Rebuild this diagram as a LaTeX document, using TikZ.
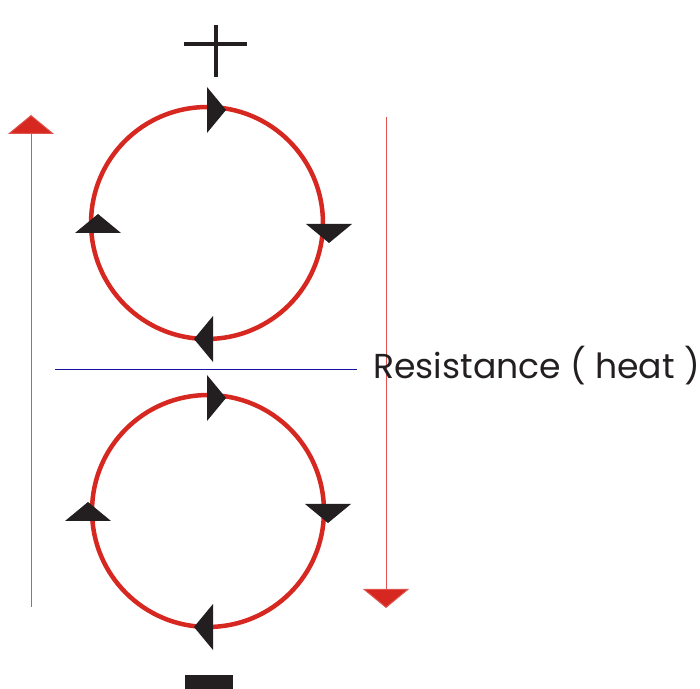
\documentclass[tikz,border=0pt]{standalone}
\usepackage{fontspec}
\setmainfont{Poppins}
\usepackage{tikz}
\usetikzlibrary{arrows.meta}
\definecolor{loopred}{RGB}{214,40,32}
\definecolor{tipblack}{RGB}{35,31,32}
\definecolor{midblue}{RGB}{20,20,160}

\begin{document}
\begin{tikzpicture}[x=0.02cm, y=0.02cm,
			ring/.style={circle, draw=loopred, line width=0.09cm, minimum size=4.64cm, inner sep=0pt},
			pointer/.style={fill=tipblack},
			flow/.style={draw=loopred!80, line width=0.02cm, -{Triangle[width=0.92cm, length=0.38cm, fill=loopred]}},
			sign/.style={draw=tipblack, line width=0.075cm}
			]
			\useasboundingbox (0,0) rectangle (700,689);
			% the two current loops
			\node[ring] (upper) at (207,466) {};
			\node[ring] (lower) at (208,178) {};
			% direction marks on the loops
			\foreach \px/\py/\ang in {207/579/0, 98/456/90, 329/465/-90, 213/350/180,
				207/291/0, 88/168/90, 328/185/-90, 213/62/180}
				\fill[pointer, shift={(\px,\py)}, rotate=\ang] (0,-23) -- (19,0) -- (0,23) -- cycle;
			% side arrows
			\coordinate (lstart) at (31,82);
			\coordinate (lend) at (31,574);
			\coordinate (rstart) at (386,572);
			\coordinate (rend) at (386,81);
			\draw[flow] (lstart) -- (lend);
			\draw[flow] (rstart) -- (rend);
			% boundary line
			\coordinate (bleft) at (55,319);
			\coordinate (bright) at (357,319);
			\draw[midblue, line width=0.02cm] (bleft) -- (bright);
			\node[anchor=base west, inner sep=0pt, font=\fontsize{19.7}{23}\selectfont, text=tipblack] (label) at (373,310) {Resistance ( heat )};
			% polarity signs
			\coordinate (ptop) at (216,664);
			\coordinate (pbot) at (216,612);
			\coordinate (pleft) at (184,645);
			\coordinate (pright) at (247,645);
			\draw[sign] (ptop) -- (pbot);
			\draw[sign] (pleft) -- (pright);
			\fill[tipblack] (185,0) rectangle (233,14);
		\end{tikzpicture}
\end{document}
